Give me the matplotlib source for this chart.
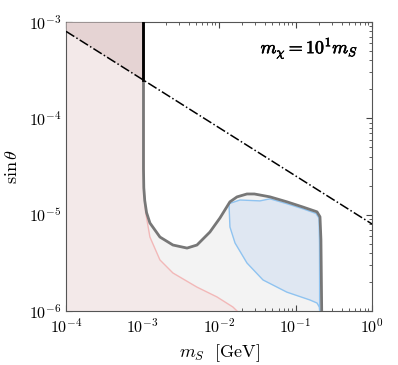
import numpy as np
import matplotlib
matplotlib.use("Agg")
import matplotlib.pyplot as plt
import matplotlib.ticker as mticker
import matplotlib.patheffects as pe

plt.rcParams["mathtext.fontset"] = "cm"
plt.rcParams["font.family"] = "serif"
plt.rcParams["font.serif"] = ["DejaVu Serif"]

# outer (gray) exclusion contour
gray_x = [1.03e-3, 1.03e-3, 1.04e-3, 1.07e-3, 1.13e-3, 1.25e-3, 1.69e-3, 2.5e-3,
          3.82e-3, 5.15e-3, 7.6e-3, 1.03e-2, 1.39e-2, 1.72e-2, 2.32e-2, 2.9e-2,
          4.64e-2, 7.7e-2, 0.125, 0.191, 0.209, 0.215, 0.22]
gray_y = [1e-3, 3e-5, 1.9e-5, 1.4e-5, 1.05e-5, 8.2e-6, 5.86e-6, 4.84e-6,
          4.5e-6, 4.84e-6, 6.6e-6, 9.25e-6, 1.36e-5, 1.53e-5, 1.64e-5, 1.64e-5,
          1.53e-5, 1.36e-5, 1.2e-5, 1.07e-5, 9.5e-6, 5.5e-6, 1e-6]

# blue region contour
blue_x = [1.35e-2, 1.88e-2, 3.43e-2, 4.64e-2, 7.7e-2, 0.125, 0.185, 0.203,
          0.206, 0.207, 0.205, 0.191, 0.155, 7.7e-2, 3.76e-2, 2.32e-2,
          1.62e-2, 1.39e-2]
blue_y = [1.3e-5, 1.42e-5, 1.39e-5, 1.46e-5, 1.3e-5, 1.15e-5, 1.03e-5, 9.2e-6,
          5e-6, 1e-6, 1.1e-6, 1.21e-6, 1.3e-6, 1.57e-6, 2.1e-6, 3.15e-6,
          5.08e-6, 7.45e-6]

# pink region boundary
pink_x = [1.03e-3, 1.04e-3, 1.06e-3, 1.1e-3, 1.25e-3, 1.69e-3, 2.5e-3, 5.15e-3,
          9.4e-3, 1.52e-2, 1.72e-2]
pink_y = [1e-3, 3e-5, 1.6e-5, 1.05e-5, 5.86e-6, 3.39e-6, 2.48e-6, 1.77e-6,
          1.4e-6, 1.1e-6, 1e-6]

# dash-dotted line: sin(theta) = A * m_S^-1/2
line_A = 8e-6
line_m = np.array([1e-4, 1.0])
line_s = line_A * line_m ** -0.5

m_cut = 1.03e-3

fig = plt.figure(figsize=(3.98, 3.65), dpi=100)
ax = fig.add_axes([66 / 398, 1 - 311 / 365, 306 / 398, 289 / 365])
ax.set_xscale("log")
ax.set_yscale("log")

# gray region
ax.fill(gray_x + [1.03e-3], gray_y + [1e-6], color="#f3f3f3", zorder=1, lw=0)
# pink region
px = [1e-4] + pink_x + [1e-4]
py = [1e-3] + pink_y + [1e-6]
ax.fill(px, py, color="#f3e9e9", zorder=2, lw=0)
ax.plot(pink_x, pink_y, color="#f2b8b8", lw=1, zorder=3)
# dark region above dash-dot line
mm = np.array([1e-4, m_cut])
ax.fill_between(mm, line_A * mm ** -0.5, 1e-3, color="#e5d3d3", zorder=3, lw=0)
ax.plot([m_cut * 0.99, m_cut * 0.99], [line_A * m_cut ** -0.5, 1e-3],
        color="#e06060", lw=1, zorder=4)
# blue region
ax.fill(blue_x, blue_y, facecolor="#dfe7f2", edgecolor="#8fc3f0", lw=1, zorder=4)
# gray outline
ax.plot(gray_x, gray_y, color="#777777", lw=2, zorder=5)
ax.plot([m_cut, m_cut], [line_A * m_cut ** -0.5, 1e-3], color="black", lw=2, zorder=6)
# dash-dotted
ax.plot(line_m, line_s, color="black", ls="-.", lw=1.1, zorder=7)

ax.set_xlim(1e-4, 1)
ax.set_ylim(1e-6, 1e-3)
ax.text(0.955, 0.955, r"$m_\chi = 10^1 m_S$", transform=ax.transAxes,
        ha="right", va="top", fontsize=13,
        path_effects=[pe.withStroke(linewidth=0.45, foreground="black")])
ax.set_xlabel(r"$m_S\ \ [\mathrm{GeV}]$", fontsize=13, labelpad=4)
ax.set_ylabel(r"$\sin\theta$", fontsize=13, labelpad=6)

fmt = mticker.FuncFormatter(lambda v, p: r"$10^{%d}$" % round(np.log10(v)))
ax.xaxis.set_major_formatter(fmt)
ax.yaxis.set_major_formatter(fmt)
ax.xaxis.set_major_locator(mticker.LogLocator(base=10, numticks=10))
ax.yaxis.set_major_locator(mticker.LogLocator(base=10, numticks=10))
ax.tick_params(which="both", direction="in", top=True, right=True,
               labelsize=11.5, color="#444444")
ax.tick_params(which="major", length=4, pad=3)
ax.tick_params(axis="x", which="major", pad=5)
ax.tick_params(which="minor", length=2)
for s in ax.spines.values():
    s.set_color("#555555")

fig.savefig("out.png", dpi=100)
